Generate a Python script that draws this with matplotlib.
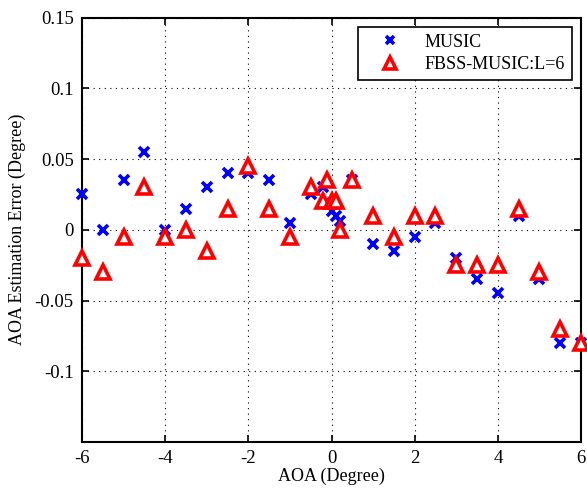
import matplotlib
matplotlib.use("Agg")
import matplotlib.pyplot as plt

plt.rcParams['font.family'] = ['Liberation Serif', 'DejaVu Serif']
plt.rcParams['mathtext.fontset'] = 'stix'

# AOA sample points (degrees) and estimation errors
aoa = [-6, -5.5, -5, -4.5, -4, -3.5, -3, -2.5, -2, -1.5, -1,
       -0.5, -0.2, -0.1, 0, 0.1, 0.2, 0.5,
       1, 1.5, 2, 2.5, 3, 3.5, 4, 4.5, 5, 5.5, 6]
music_err = [0.025, 0.0, 0.035, 0.055, 0.0, 0.015, 0.03, 0.04, 0.04, 0.035, 0.005,
             0.025, 0.03, 0.02, 0.013, 0.01, 0.006, 0.035,
             -0.01, -0.015, -0.005, 0.005, -0.02, -0.035, -0.045, 0.01, -0.035, -0.08, -0.08]
fbss_err = [-0.02, -0.03, -0.005, 0.03, -0.005, 0.0, -0.015, 0.015, 0.045, 0.015, -0.005,
            0.03, 0.02, 0.035, 0.02, 0.02, 0.0, 0.035,
            0.01, -0.005, 0.01, 0.01, -0.025, -0.025, -0.025, 0.015, -0.03, -0.07, -0.08]

xticks = [-6, -4, -2, 0, 2, 4, 6]
yticks = [-0.1, -0.05, 0, 0.05, 0.1, 0.15]
ytick_labels = ['-0.1', '-0.05', '0', '0.05', '0.1', '0.15']

fig = plt.figure(figsize=(5.87, 4.88), dpi=100)
ax = fig.add_axes([0.1397, 0.0943, 0.8501, 0.8697])

ax.plot(aoa, music_err, linestyle='none', marker='x', markersize=6.5,
        markeredgewidth=2.6, color='#0000ff', label='MUSIC', zorder=3, clip_on=False)
ax.plot(aoa, fbss_err, linestyle='none', marker='^', markersize=10,
        markeredgewidth=2.6, markeredgecolor='#ff0000', markerfacecolor='white',
        label='FBSS-MUSIC:L=6', zorder=4, clip_on=False)

ax.set_xlim(-6, 6)
ax.set_ylim(-0.15, 0.15)
ax.set_xticks(xticks)
ax.set_xticklabels([str(t) for t in xticks])
ax.set_yticks(yticks)
ax.set_yticklabels(ytick_labels)

ax.grid(True, color='black', linestyle=(0, (1, 4)), linewidth=0.8)
ax.tick_params(direction='in', length=5, width=1.2, labelsize=13.5, top=True, right=True,
               pad=6)
for s in ax.spines.values():
    s.set_linewidth(1.5)
    s.set_zorder(2)

ax.set_xlabel('AOA (Degree)', fontsize=13, labelpad=0)
ax.set_ylabel('AOA Estimation Error (Degree)', fontsize=13, labelpad=6)

leg = ax.legend(loc='upper right', fontsize=13, frameon=True, fancybox=False,
                edgecolor='black', framealpha=1, borderpad=0.4, handlelength=2.8,
                handletextpad=0.5, labelspacing=0.3, borderaxespad=0.5,
                markerscale=0.8)
leg.get_frame().set_linewidth(1.2)
leg.set_zorder(5)

fig.savefig('out.png', dpi=100)
